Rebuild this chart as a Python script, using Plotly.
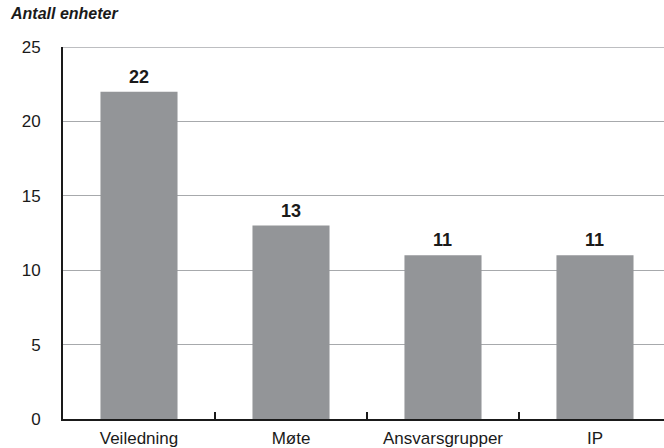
import plotly.graph_objects as go

categories = ["Veiledning", "Møte", "Ansvarsgrupper", "IP"]
values = [22, 13, 11, 11]
y_ticks = [0, 5, 10, 15, 20, 25]

font_family = "Liberation Sans, Arial, sans-serif"

fig = go.Figure()
fig.add_trace(go.Bar(
    x=categories,
    y=values,
    width=0.507,
    marker=dict(color="#939598", line=dict(width=0)),
    hoverinfo="skip",
))

# value labels above each bar
for cat, val in zip(categories, values):
    fig.add_annotation(
        x=cat, y=val, text=f"<b>{val}</b>", showarrow=False,
        yanchor="bottom", yshift=3,
        font=dict(family=font_family, size=18, color="#1a1a1a"),
    )

fig.add_annotation(
    xref="paper", yref="paper", x=-0.092, y=1.089,
    xanchor="left", yanchor="middle", showarrow=False,
    text="<b><i>Antall enheter</i></b>",
    font=dict(family=font_family, size=16, color="#1a1a1a"),
)

# top border line at the axis maximum
fig.add_shape(
    type="line", xref="paper", yref="y", x0=0, x1=1, y0=25, y1=25,
    line=dict(color="#a7a9ac", width=1.5),
)

fig.update_layout(
    width=664, height=448,
    margin=dict(l=63, r=0, t=47, b=29),
    paper_bgcolor="white", plot_bgcolor="white",
    showlegend=False,
    font=dict(family=font_family, size=17, color="#1a1a1a"),
    bargap=0.5,
)
fig.update_xaxes(
    range=[-0.5, 3.454],
    showline=True, linecolor="#1a1a1a", linewidth=2,
    ticks="inside", ticklen=7, tickwidth=2, tickcolor="#1a1a1a",
    tickson="boundaries", showgrid=False,
    tickfont=dict(size=17), ticklabelstandoff=3,
)
fig.update_yaxes(
    range=[0, 25], tickvals=y_ticks,
    showline=True, linecolor="#1a1a1a", linewidth=2,
    showgrid=True, gridcolor="#a7a9ac", gridwidth=1,
    ticks="", ticklabelstandoff=17, zeroline=False,
    tickfont=dict(size=17),
)

fig.write_html("out.html")
